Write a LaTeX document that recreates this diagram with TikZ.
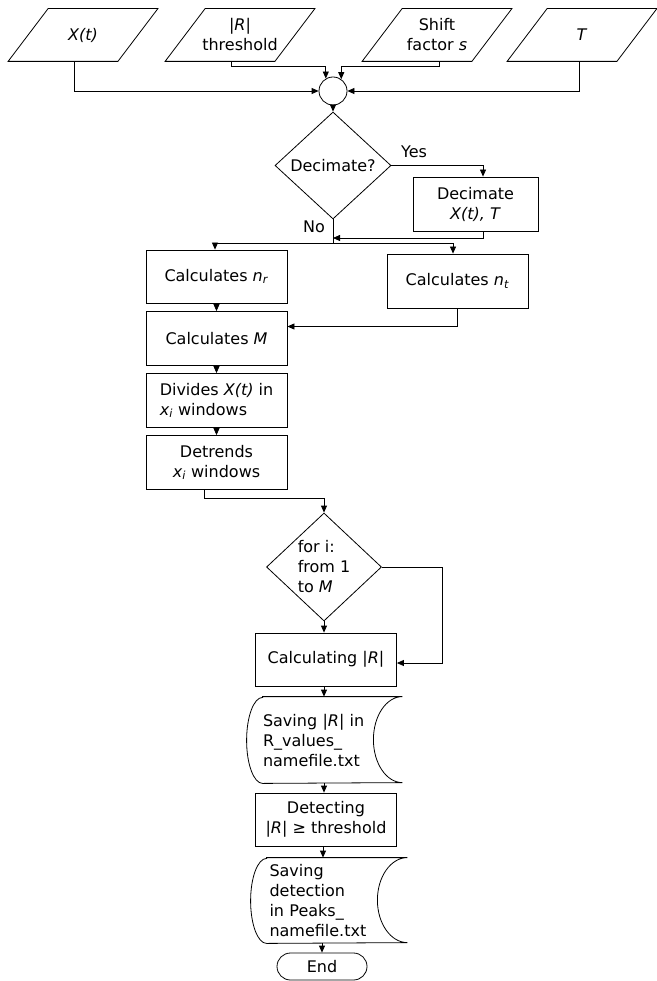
\documentclass[tikz,border=0pt]{standalone}
\usepackage{fontspec}
\setmainfont{DejaVu Sans}
\usetikzlibrary{shapes.geometric,shapes.misc,arrows.meta}

\begin{document}
\begin{tikzpicture}[-,>={Triangle[length=7pt,width=6pt]},x=1pt,y=-1pt,node distance=62pt,line width=0.8pt,
    every node/.style={font=\fontsize{16}{20}\selectfont},
    io/.style={rectangle,minimum width=109pt,minimum height=52pt,inner sep=1pt,align=center},
    process/.style={rectangle,draw,minimum width=141pt,minimum height=54pt,align=center},
    decision/.style={diamond,draw,inner sep=0pt,align=left},
    store/.style={inner xsep=0pt,minimum height=86pt,align=left},
    term/.style={rounded rectangle,draw,minimum width=92pt,minimum height=27pt,inner sep=1pt}]

    \useasboundingbox (0,0) rectangle (656,981);

    % inputs
    \node[io]  (xt) at (83,35) {\textit{X(t)}};
    \node[io]  (thr) at (240,35) {\textit{|R|}\\threshold};
    \node[io]  (shift) at (437,35) {Shift\\factor \textit{s}};
    \node[io]  (T) at (582,35) {\textit{T}};
    \node[circle, draw, minimum size=28pt, inner sep=0pt]  (join) at (333,91) {};

    % decimation
    \node[decision, minimum width=116pt, minimum height=107pt]  (dec) [below of = join, yshift=-12.5] {Decimate?};
    \node[process, minimum width=125pt]  (dcm) at (475.5,204) {Decimate\\\textit{X(t), T}};
    \node[]  (yes) at (414,152) {Yes};
    \node[]  (no) at (314,227) {No};
    \coordinate (mrg) at (333,238);
    \coordinate (fork) at (333,243);

    % windows
    \node[process, minimum height=53pt]  (nr) at (216.5,276.5) {Calculates \textit{n}\textsubscript{\textit{r}}};
    \node[process]  (nt) at (457.5,281) {Calculates \textit{n}\textsubscript{\textit{t}}};
    \node[process]  (m) [below of = nr] {Calculates \textit{M}};
    \node[process, align=left]  (div) [below of = m] {Divides \textit{X(t)} in\\\textit{x}\textsubscript{\textit{i}} windows};
    \node[process]  (det) [below of = div] {Detrends\\\textit{x}\textsubscript{\textit{i}} windows};

    % loop
    \node[decision, minimum width=115pt, minimum height=108pt]  (loop) at (324,567) {for i:\\from 1\\to \textit{M}};
    \node[process, minimum height=53pt]  (calc) [below of = loop, xshift=2, yshift=-30.5] {Calculating \textit{|R|}};
    \node[store, text width=139pt]  (s1) [below of = calc, xshift=6.5, yshift=-18.5] {Saving \textit{|R|} in\\R\_values\_\\namefile.txt};
    \node[process, minimum height=53pt]  (detc) [below of = s1, xshift=-6.5, yshift=-17.5] {Detecting\\\textit{|R|} ≥ threshold};
    \node[store, text width=135pt, minimum width=140pt, minimum height=85pt]  (s2) [below of = detc, xshift=11, yshift=-19] {Saving\\detection\\in Peaks\_\\namefile.txt};
    \node[term]  (end) [below of = s2, xshift=-15, yshift=-4] {End};

    % parallelogram and stored data outlines
    \foreach \n in {xt,thr,shift,T}
        \draw ([xshift=-20pt]\n.south west) -- ([xshift=20pt]\n.north west)
            -- ([xshift=20pt]\n.north east) -- ([xshift=-20pt]\n.south east) -- cycle;
    \draw (s1.north west) -- (s1.north east) arc[start angle=90, end angle=270, x radius=29pt, y radius=43pt]
        -- (s1.south west) arc[start angle=270, end angle=90, x radius=16pt, y radius=43pt] -- cycle;
    \draw (s2.north west) -- (s2.north east) arc[start angle=90, end angle=270, x radius=30pt, y radius=42.5pt]
        -- (s2.south west) arc[start angle=270, end angle=90, x radius=16pt, y radius=42.5pt] -- cycle;

    % connectors
    \draw[->] ([xshift=-9pt]xt.south) |- (join.west);
    \draw[->] ([xshift=-9pt]thr.south) -- ++(0,5) -| (join.120);
    \draw[->] ([xshift=2pt]shift.south) -- ++(0,5) -| (join.55);
    \draw[->] ([xshift=-3pt]T.south) |- (join.east);
    \path[->]
        (join) edge (dec)
        (nr) edge (m)
        (m) edge (div)
        (div) edge (det)
    ;
    \draw[->] (dec.east) -| ([xshift=7.5pt]dcm.north);
    \draw[->] ([xshift=7.5pt]dcm.south) |- (mrg);
    \draw (dec.south) -- (fork);
    \draw[->] (fork) -| ([xshift=-1.5pt]nr.north);
    \draw[->] (fork) -| ([xshift=-4.5pt]nt.north);
    \draw[->] (nt.south) |- ([yshift=12pt]m.east);
    \draw[->] ([xshift=-12pt]det.south) -- ++(0,8) -| (loop.north);
    \draw[->] (loop.east) -- ++(60,0) |- ([yshift=-3.5pt]calc.east);
    \draw[->] (loop.south) -- (loop.south |- calc.north);
    \draw[->] ([xshift=-2pt]calc.south) -- ([xshift=-2pt]calc.south |- s1.north);
    \draw[->] ([xshift=-2pt]calc.south |- s1.south) -- ([xshift=-2pt]detc.north);
    \draw[->] ([xshift=-3pt]detc.south) -- ([xshift=-3pt]detc.south |- s2.north);
    \draw[->] (end.north |- s2.south) -- (end.north);
\end{tikzpicture}
\end{document}
